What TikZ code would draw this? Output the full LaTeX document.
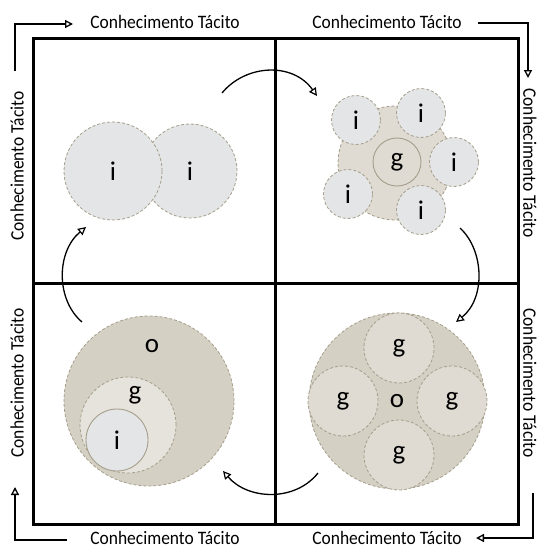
\documentclass[tikz,border=0pt]{standalone}
\usepackage{fontspec}
\setmainfont{Carlito}
\newfontfamily\labelfont[FakeStretch=0.92]{Carlito}
\usetikzlibrary{arrows.meta}
\definecolor{ifill}{HTML}{E4E5E7}
\definecolor{gfill}{HTML}{DFDBD2}
\definecolor{glight}{HTML}{E6E3DC}
\definecolor{ofill}{HTML}{D4D0C4}
\definecolor{edge}{HTML}{A59E8B}
\begin{document}
\begin{tikzpicture}[x=1pt,y=-1pt,
  frame/.style={line width=3pt},
  flow/.style={line width=2pt,-{Triangle[open,length=8pt,width=8pt,line width=1.3pt]}},
  turn/.style={line width=1.3pt,-{Triangle[open,length=8pt,width=8pt,line width=1.2pt]}},
  lbl/.style={font=\labelfont\fontsize{19}{21}\selectfont,inner sep=0pt},
  letter/.style={font=\fontsize{27}{30}\selectfont,inner sep=0pt},
  ring/.style={draw=edge,dash pattern=on 3pt off 2pt,line width=0.8pt},
  solidring/.style={draw=edge,line width=0.9pt},
  disc/.style={circle,inner sep=0pt,font=\fontsize{27}{30}\selectfont},
]
\useasboundingbox (0,0) rectangle (541,549);

% frame and quadrants
\draw[frame] (33,38) rectangle (518,524);
\draw[frame] (275,38) -- (275,524);
\draw[frame] (33,283) -- (518,283);

% side labels
\node[lbl] (tl) at (165,22) {Conhecimento Tácito};
\node[lbl] (tr) at (387,22) {Conhecimento Tácito};
\node[lbl] (bl) at (165,538) {Conhecimento Tácito};
\node[lbl] (br) at (387,538) {Conhecimento Tácito};
\node[lbl,rotate=90] (lt) at (17,166) {Conhecimento Tácito};
\node[lbl,rotate=90] (lb) at (17,383) {Conhecimento Tácito};
\node[lbl,rotate=-90] (rt) at (530,163) {Conhecimento Tácito};
\node[lbl,rotate=-90] (rb) at (530,383) {Conhecimento Tácito};

% corner flow arrows
\coordinate (k1) at (15,71);
\coordinate (k1e) at (73,24);
\draw[flow] (k1) |- (k1e);
\coordinate (k2) at (478,23);
\coordinate (k2e) at (528,78);
\draw[flow] (k2) -| (k2e);
\coordinate (k3) at (533,493);
\coordinate (k3e) at (476,538);
\draw[flow] (k3) |- (k3e);
\coordinate (k4) at (67,540);
\coordinate (k4e) at (15,487);
\draw[flow] (k4) -| (k4e);

% quadrant 1: two individuals
\node[disc,fill=ifill,ring,minimum size=94pt] (a2) at (190,171) {i};
\node[disc,fill=ifill,ring,minimum size=98pt] (a1) at (113,171) {i};

% quadrant 2: individuals around a group
\fill[gfill] (395,163) circle (57);
\draw[ring] (395,163) circle (57);
\node[disc,fill=gfill,solidring,minimum size=48pt] (g0) at (397,162) {g};
\node[disc,fill=ifill,ring,minimum size=49pt] (b1) at (356,120) {i};
\node[disc,fill=ifill,ring,minimum size=49pt] (b2) at (421,113) {i};
\node[disc,fill=ifill,ring,minimum size=49pt] (b3) at (454,162) {i};
\node[disc,fill=ifill,ring,minimum size=49pt] (b4) at (348,194) {i};
\node[disc,fill=ifill,ring,minimum size=49pt] (b5) at (421,210) {i};

% quadrant 3: groups inside an organisation
\node[disc,fill=ofill,ring,minimum size=176pt] (o2) at (397,401) {o};
\node[disc,fill=gfill,ring,minimum size=70pt] (c1) at (399,348) {g};
\node[disc,fill=gfill,ring,minimum size=70pt] (c2) at (343,401) {g};
\node[disc,fill=gfill,ring,minimum size=70pt] (c3) at (452,401) {g};
\node[disc,fill=gfill,ring,minimum size=70pt] (c4) at (399,455) {g};

% quadrant 4: nested individual, group, organisation
\node[disc,fill=ofill,ring,minimum size=170pt] (o1) at (149,401) {};
\node[letter] (o1t) at (152,346) {o};
\node[disc,fill=glight,ring,minimum size=96pt] (g1) at (128,425) {};
\node[letter] (g1t) at (135,395) {g};
\node[disc,fill=ifill,solidring,minimum size=62pt] (i1) at (117,440) {i};

% cycle arrows between quadrants
\coordinate (s1) at (222,93);
\coordinate (e1) at (317,96);
\draw[turn] (s1) .. controls (246,64) and (293,62) .. (e1);
\coordinate (s2) at (460,228);
\coordinate (e2) at (456,322);
\draw[turn] (s2) .. controls (484,250) and (486,298) .. (e2);
\coordinate (s3) at (318,473);
\coordinate (e3) at (223,471);
\draw[turn] (s3) .. controls (295,502) and (248,500) .. (e3);
\coordinate (s4) at (82,322);
\coordinate (e4) at (86,227);
\draw[turn] (s4) .. controls (56,300) and (56,252) .. (e4);
\end{tikzpicture}
\end{document}
